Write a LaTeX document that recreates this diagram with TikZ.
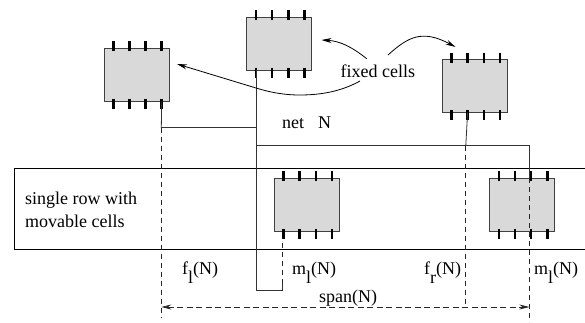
\documentclass[tikz,border=0pt]{standalone}
\usepackage{fontspec}
\setmainfont{Liberation Serif}
\usetikzlibrary{arrows.meta}
\tikzset{
  cellbox/.style={draw=black!75,fill=black!15,line width=0.9pt,minimum width=65pt,minimum height=53pt,inner sep=0pt,outer sep=0pt},
  pinline/.style={line width=2.6pt,black},
  wire/.style={line width=0.8pt,black!80},
  dashwire/.style={line width=0.7pt,black!85,dash pattern=on 5pt off 4pt},
  curvearrow/.style={line width=0.8pt,black,-{Stealth[length=10pt,width=5pt]}},
  txt/.style={font=\fontsize{18}{18}\selectfont,anchor=base west,inner sep=0pt},
}
\newcommand{\cellpins}[1]{%
  \foreach \i/\o in {1/9.3,2/25.3,3/41.5,4/57.7}{
    \coordinate (#1-t\i) at ([xshift=\o pt]#1.north west);
    \coordinate (#1-b\i) at ([xshift=\o pt]#1.south west);
    \draw[pinline] ([yshift=7pt]#1-t\i) -- ([yshift=-3pt]#1-t\i);
    \draw[pinline] ([yshift=2.5pt]#1-b\i) -- ([yshift=-7.5pt]#1-b\i);
  }}
\newcommand{\lowered}[1]{\raisebox{-9pt}{#1}}
\begin{document}
\begin{tikzpicture}[x=1pt,y=-1pt]
\useasboundingbox (0,0) rectangle (585,322);
% row
\coordinate (rowTR) at (585,168.5);
\coordinate (rowTL) at (14,168.5);
\coordinate (rowBL) at (14,249.5);
\coordinate (rowBR) at (585,249.5);
\draw[line width=0.8pt] (rowTR) -- (rowTL) -- (rowBL) -- (rowBR);
% cells
\node[cellbox] (a) at (136.5,74.5) {};
\node[cellbox] (b) at (279.2,43.7) {};
\node[cellbox] (c) at (474.8,86) {};
\node[cellbox] (d) at (306.8,204.5) {};
\node[cellbox] (e) at (522,204.5) {};
\cellpins{a}\cellpins{b}\cellpins{c}\cellpins{d}\cellpins{e}
% named routing points
\coordinate (j1) at (256,127.5);
\coordinate (j2) at (256,145.5);
\coordinate (k1) at (529.3,145.5);
\coordinate (k2) at (529.3,178);
\coordinate (k3) at (529.3,322);
\coordinate (bot1) at (256,290);
\coordinate (bot2) at (282.5,290);
\coordinate (bot3) at (282.5,284);
\coordinate (bot4) at (282.5,238);
\coordinate (fl1) at (161.3,127.5);
\coordinate (fl2) at (161.3,317);
\coordinate (fr1) at (465.8,145.5);
\coordinate (fr2) at (465.8,307);
\coordinate (sl) at (161.3,307);
\coordinate (sr) at (529.3,307);
% net
\draw[wire] (a-b4) -- (fl1) -- (j1);
\draw[wire] (b-b1) -- (bot1) -- (bot2) -- (bot3);
\draw[wire] (j2) -- (k1) -- (k2);
\draw[wire] (c-b2) -- (fr1);
\draw[dashwire] (bot3) -- (bot4);
\draw[dashwire] (fl1) -- (fl2);
\draw[dashwire] (fr1) -- (fr2);
\draw[dashwire] (k2) -- (k3);
\draw[dashwire,{Stealth[length=10pt,width=5pt]}-{Stealth[length=10pt,width=5pt]},dash pattern=on 6pt off 3.5pt] (sl) -- (sr);
% labels
\node[txt] (fixed) at (340.5,77) {fixed cells};
\node[txt] (net) at (282,128) {net};
\node[txt] (netn) at (318,128) {N};
\node[txt] (row1) at (25,204) {single row with};
\node[txt] (row2) at (25,227) {movable cells};
\node[txt] (fl) at (182,274) {f\lowered{l}(N)};
\node[txt] (ml) at (292,274) {m\lowered{l}(N)};
\node[txt] (fr) at (424,274) {f\lowered{r}(N)};
\node[txt] (mr) at (534,274) {m\lowered{l}(N)};
\node[txt] (span) at (319,302) {span(N)};
% curved arrows
\coordinate (s1) at (360,81);
\coordinate (m1) at (300,95);
\coordinate (m2) at (256,88);
\coordinate (e1) at (177,64);
\coordinate (s2) at (366.7,58.7);
\coordinate (e2) at (321.5,40);
\coordinate (s3) at (388,55);
\coordinate (e3) at (455.5,47);
\draw[curvearrow] (s1) .. controls (342,91) and (322,95) .. (m1) .. controls (283,95) and (269,92) .. (m2) -- (e1);
\draw[curvearrow] (s2) .. controls (352,47) and (340,41) .. (e2);
\draw[curvearrow] (s3) .. controls (408,37) and (422,29) .. (e3);
\end{tikzpicture}
\end{document}
